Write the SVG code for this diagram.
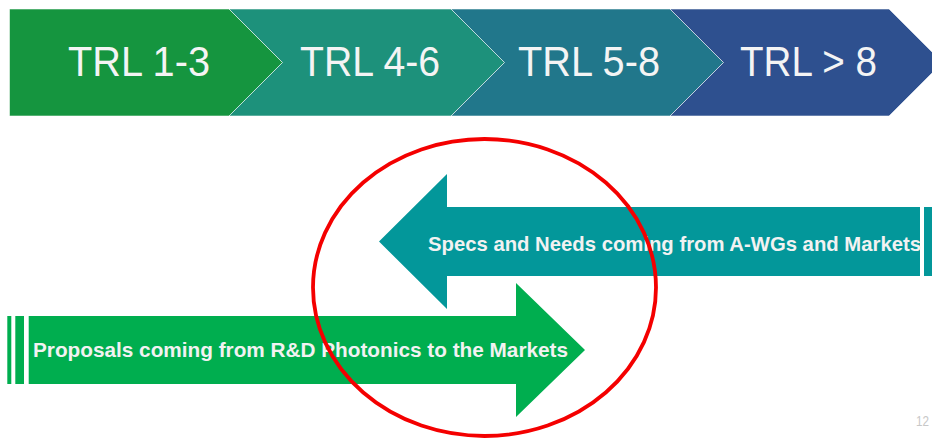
<svg xmlns="http://www.w3.org/2000/svg" width="932" height="441" viewBox="0 0 932 441">
  <style>
    .stage { stroke: #ffffff; stroke-opacity: 0.55; stroke-width: 1; }
    .stage-label { font-family: "Liberation Sans", Arial, sans-serif; font-size: 42px; fill: #f4f4f4; text-anchor: middle; }
    .flow-label { font-family: "Liberation Sans", Arial, sans-serif; font-size: 20.5px; font-weight: bold; fill: #f2f2f2; }
    .needs { fill: #03979a; }
    .proposals { fill: #00ae4f; }
    .page-no { font-family: "Liberation Sans", Arial, sans-serif; font-size: 14px; fill: #c8c8c8; }
  </style>

  <rect width="932" height="441" fill="#ffffff"/>

  <!-- TRL stage chevrons -->
  <g id="stage-trl-1-3">
    <polygon class="stage" fill="#15953f" points="9.5,9 229,9 282.5,62.5 229,116 9.5,116"/>
    <text class="stage-label" x="139" y="76" textLength="142" lengthAdjust="spacingAndGlyphs">TRL 1-3</text>
  </g>
  <g id="stage-trl-4-6">
    <polygon class="stage" fill="#1d917b" points="229,9 451,9 504.5,62.5 451,116 229,116 282.5,62.5"/>
    <text class="stage-label" x="370" y="76" textLength="140" lengthAdjust="spacingAndGlyphs">TRL 4-6</text>
  </g>
  <g id="stage-trl-5-8">
    <polygon class="stage" fill="#21778b" points="451,9 670,9 723.5,62.5 670,116 451,116 504.5,62.5"/>
    <text class="stage-label" x="589" y="76" textLength="142" lengthAdjust="spacingAndGlyphs">TRL 5-8</text>
  </g>
  <g id="stage-trl-gt-8">
    <polygon class="stage" fill="#2e508f" points="670,9 889,9 942.5,62.5 889,116 670,116 723.5,62.5"/>
    <text class="stage-label" x="808.5" y="76" textLength="137" lengthAdjust="spacingAndGlyphs">TRL &gt; 8</text>
  </g>

  <!-- Leftward flow: specs and needs -->
  <g id="flow-specs-needs">
    <polygon class="needs" points="379,241.5 447,174 447,207 920,207 920,276 447,276 447,309"/>
    <rect class="needs" x="924" y="207" width="10" height="69"/>
    <text class="flow-label" x="428" y="250.5" textLength="493" lengthAdjust="spacingAndGlyphs">Specs and Needs coming from A-WGs and Markets</text>
  </g>

  <!-- Rightward flow: proposals -->
  <g id="flow-proposals">
    <rect class="proposals" x="7.3" y="316" width="4" height="68"/>
    <rect class="proposals" x="15.3" y="316" width="8.7" height="68"/>
    <polygon class="proposals" points="28.7,316 516,316 516,283 585,350 516,417 516,384 28.7,384"/>
    <text class="flow-label" x="33" y="357" textLength="535" lengthAdjust="spacingAndGlyphs">Proposals coming from R&amp;D Photonics to the Markets</text>
  </g>

  <!-- Highlight ring around the overlap -->
  <g id="highlight">
    <ellipse cx="484.5" cy="287.5" rx="171.5" ry="148.5" fill="none" stroke="#f40000" stroke-width="3.8"/>
  </g>

  <text class="page-no" x="916" y="426" textLength="13" lengthAdjust="spacingAndGlyphs">12</text>
</svg>
